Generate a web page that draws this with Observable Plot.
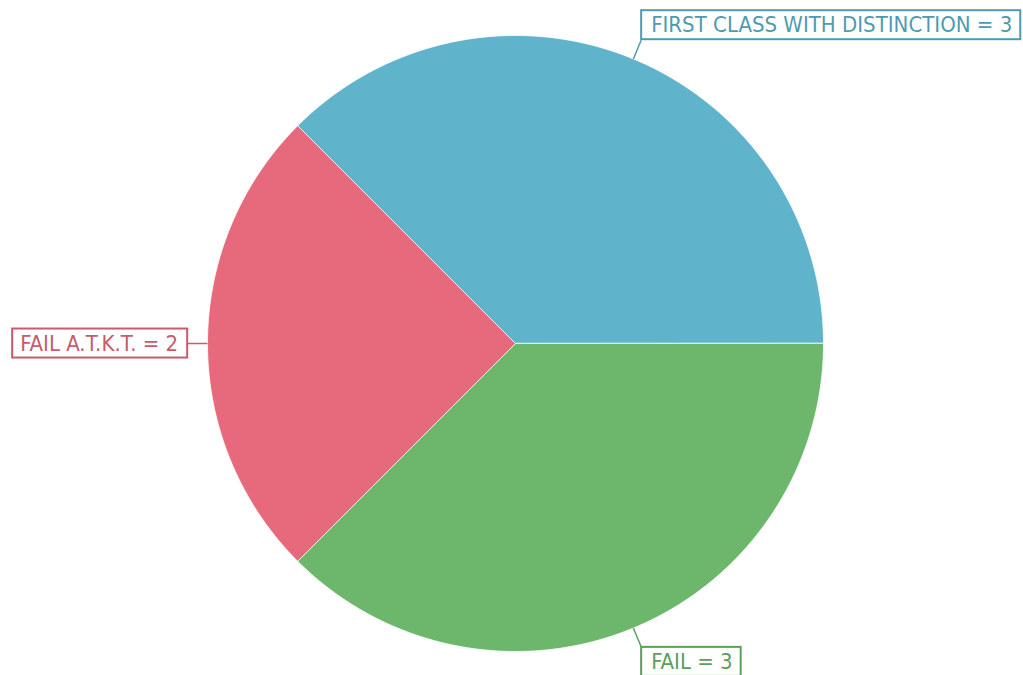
<!DOCTYPE html>
<html><head><meta charset="utf-8">
<script src="https://cdn.jsdelivr.net/npm/d3@7"></script>
<script src="https://cdn.jsdelivr.net/npm/@observablehq/plot@0.6"></script>
<style>html,body{margin:0;padding:0;background:#fff;overflow:hidden} svg{display:block}</style>
</head><body><div id="chart"></div>
<script>
const categories = ["FIRST CLASS WITH DISTINCTION", "FAIL A.T.K.T.", "FAIL"];
const values = [3, 2, 3];
const fillColors = ["#5fb3cb", "#e66a7c", "#6db76d"];
const textColors = ["#4e9bb0", "#c85b6c", "#5b9f5b"];

const W = 1023, H = 675, cx = 515, cy = 343, R = 308;
const total = d3.sum(values);
let acc = 0;
const slices = categories.map((c, i) => {
  const a0 = acc / total * 2 * Math.PI; acc += values[i];
  const a1 = acc / total * 2 * Math.PI;
  return {category: c, value: values[i], a0, a1, mid: (a0 + a1) / 2, i};
});
const polys = [];
slices.forEach(s => {
  polys.push({category: s.category, x: 0, y: 0});
  const n = Math.max(2, Math.ceil((s.a1 - s.a0) / (Math.PI / 360)));
  for (let k = 0; k <= n; k++) {
    const a = s.a0 + (s.a1 - s.a0) * k / n;
    polys.push({category: s.category, x: Math.cos(a), y: Math.sin(a)});
  }
});
const LR = 1.066;
const pad = 8;
const FONT = "'DejaVu Sans Condensed', 'DejaVu Sans', sans-serif";
const textMarks = slices.map(s => {
  const c = Math.cos(s.mid), sn = Math.sin(s.mid);
  const anchor = c > 0.1 ? "start" : c < -0.1 ? "end" : "middle";
  const dx = anchor === "start" ? pad + 2 : anchor === "end" ? -pad - 1 : 0;
  const dy = sn > 0.3 ? -15 : sn < -0.3 ? 15 : 0;
  return Plot.text([s], {
    x: d => LR * Math.cos(d.mid), y: d => LR * Math.sin(d.mid),
    text: d => `${d.category} = ${d.value}`,
    fill: textColors[s.i], textAnchor: anchor, dx, dy,
    fontSize: 22, fontFamily: FONT
  });
});

const svg = Plot.plot({
  width: W, height: H, margin: 0,
  x: {domain: [-cx / R, (W - cx) / R], range: [0, W], axis: null},
  y: {domain: [-(H - cy) / R, cy / R], range: [H, 0], axis: null},
  color: {domain: categories, range: fillColors},
  marks: [
    Plot.line(polys, {x: "x", y: "y", z: "category", fill: "category", stroke: "#ffffff", strokeOpacity: 0.8, strokeWidth: 1, curve: "linear-closed"}),
    Plot.link(slices, {
      x1: d => Math.cos(d.mid), y1: d => Math.sin(d.mid),
      x2: d => LR * Math.cos(d.mid), y2: d => LR * Math.sin(d.mid),
      stroke: d => textColors[d.i], strokeWidth: 1.5
    }),
    ...textMarks
  ]
});
svg.style.fontFamily = FONT;
document.getElementById("chart").appendChild(svg);

// draw label boxes around the rendered text
svg.querySelectorAll('g[aria-label="text"]').forEach(g => {
  g.querySelectorAll("text").forEach(t => {
    const b = t.getBBox();
    const ctm = t.getAttribute("transform");
    const rect = document.createElementNS("http://www.w3.org/2000/svg", "rect");
    const cyb = b.y + b.height / 2;
    const anchor = t.getAttribute("text-anchor") || g.getAttribute("text-anchor");
    const lp = anchor === "start" ? pad + 2 : pad;
    const rp = anchor === "end" ? pad + 1 : pad;
    rect.setAttribute("x", b.x - lp);
    rect.setAttribute("y", cyb - 14.5);
    rect.setAttribute("width", b.width + lp + rp);
    rect.setAttribute("height", 29);
    rect.setAttribute("fill", "#ffffff");
    rect.setAttribute("stroke", t.getAttribute("fill") || g.getAttribute("fill"));
    rect.setAttribute("stroke-width", 2);
    if (ctm) rect.setAttribute("transform", ctm);
    g.insertBefore(rect, t);
  });
});
</script>
</body></html>
